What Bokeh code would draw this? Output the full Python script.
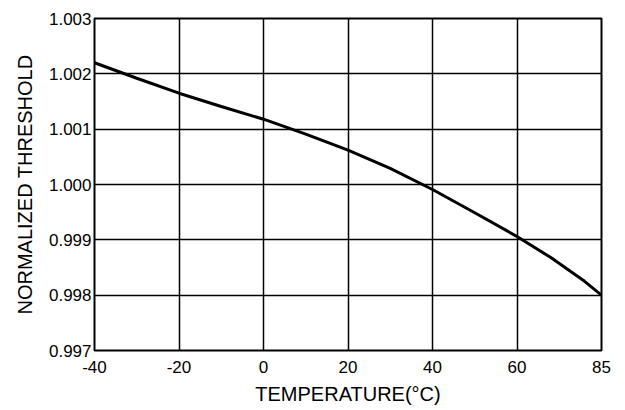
import numpy as np
from bokeh.plotting import figure
from bokeh.models import Range1d, FixedTicker
from bokeh.embed import file_html
from bokeh.resources import INLINE

# Tick labels on the (evenly spaced) temperature axis
tick_temps = [-40, -20, 0, 20, 40, 60, 85]
y_ticks = [0.997, 0.998, 0.999, 1.000, 1.001, 1.002, 1.003]

# Curve
temperature = [-40, -30, -20, -10, 0, 10, 20, 30, 40, 50, 60, 70, 80, 85]
threshold = [1.00220, 1.00192, 1.00165, 1.00141, 1.00118, 1.00091, 1.00062,
             1.00029, 0.99991, 0.99949, 0.99906, 0.99868, 0.99825, 0.99800]

tick_pos = list(range(len(tick_temps)))
x_pos = np.interp(temperature, tick_temps, tick_pos)

FONT = "Liberation Sans"

p = figure(width=620, height=407, output_backend="svg", toolbar_location=None,
           x_range=Range1d(0, len(tick_temps) - 1), y_range=Range1d(0.997, 1.003),
           min_border_left=94, min_border_right=19, min_border_top=18, min_border_bottom=48)

p.line(x_pos, threshold, line_color="black", line_width=3)

p.xaxis.ticker = FixedTicker(ticks=tick_pos)
p.xaxis.major_label_overrides = {i: str(t) for i, t in zip(tick_pos, tick_temps)}
p.yaxis.ticker = FixedTicker(ticks=y_ticks)
p.yaxis.major_label_overrides = {v: f"{v:.3f}" for v in y_ticks}

for ax in (p.xaxis, p.yaxis):
    ax.major_tick_in = 0
    ax.major_tick_out = 0
    ax.minor_tick_in = 0
    ax.minor_tick_out = 0
    ax.axis_line_color = None
    ax.major_label_text_font = FONT
    ax.major_label_text_font_size = "17px"
    ax.major_label_text_color = "black"
    ax.axis_label_text_font = FONT
    ax.axis_label_text_font_size = "20px"
    ax.axis_label_text_font_style = "normal"
    ax.axis_label_text_color = "black"

p.xaxis.axis_label = "TEMPERATURE(°C)"
p.yaxis.axis_label = "NORMALIZED THRESHOLD"
p.xaxis.major_label_standoff = 10
p.yaxis.major_label_standoff = 3
p.xaxis.axis_label_standoff = 7
p.yaxis.axis_label_standoff = 10

for g in (p.xgrid, p.ygrid):
    g.grid_line_color = "black"
    g.grid_line_width = 1.5
    g.grid_line_alpha = 1.0
p.xgrid.ticker = FixedTicker(ticks=tick_pos)
p.ygrid.ticker = FixedTicker(ticks=y_ticks)

p.outline_line_color = "black"
p.outline_line_width = 2
p.outline_line_alpha = 1.0
p.background_fill_color = "white"
p.border_fill_color = "white"

open("out.html", "w").write(file_html(p, INLINE))
